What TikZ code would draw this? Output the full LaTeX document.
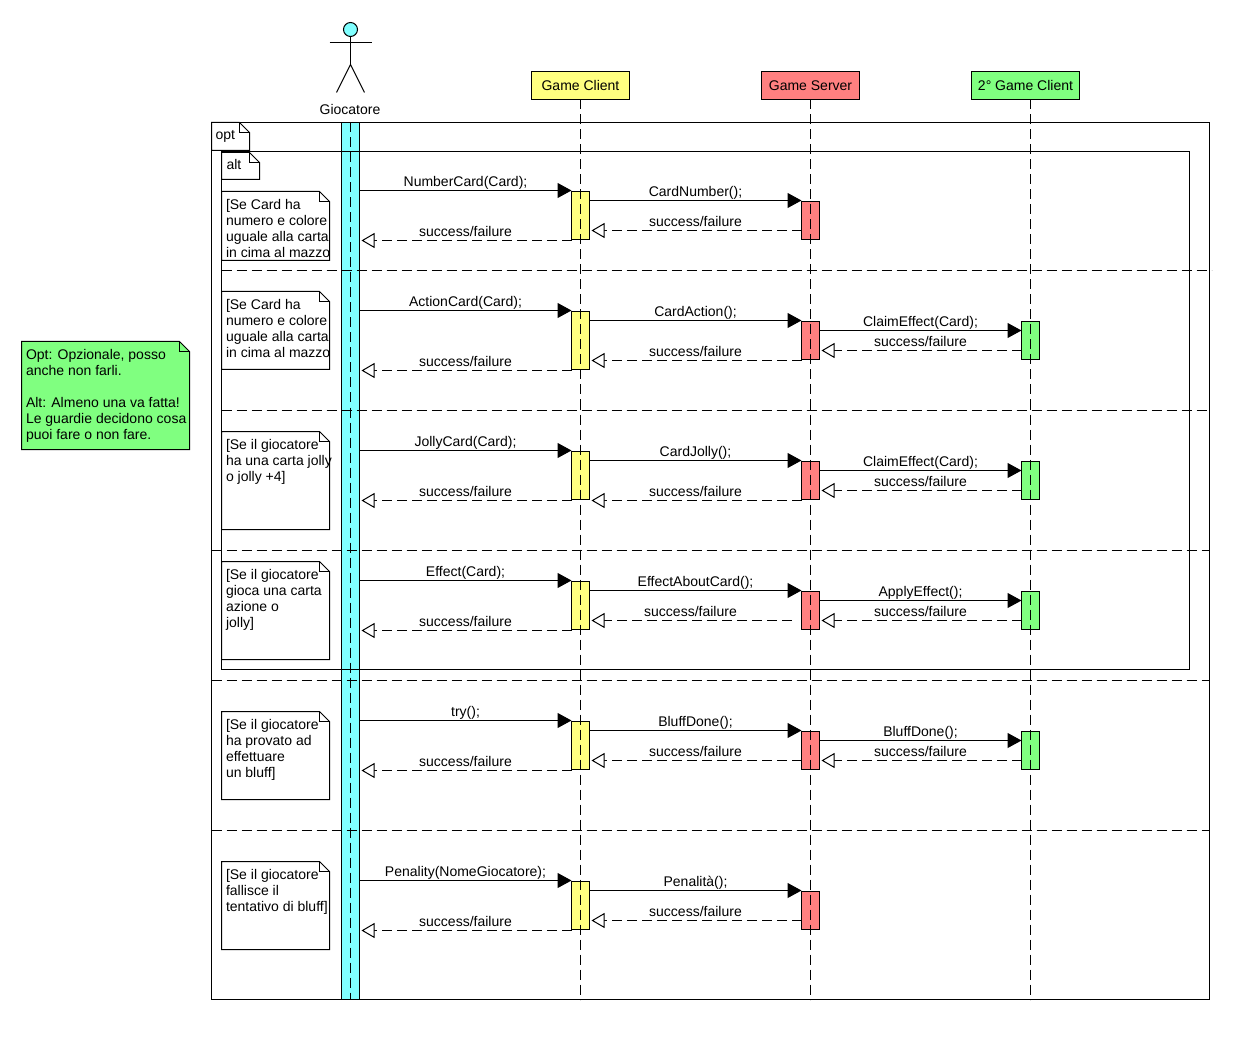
\documentclass[tikz,border=0pt]{standalone}
\usepackage{fontspec}
\setmainfont{Liberation Sans}
\usetikzlibrary{arrows.meta}
\definecolor{cy}{HTML}{80FFFF}
\definecolor{ye}{HTML}{FFFF80}
\definecolor{re}{HTML}{FF8080}
\definecolor{gr}{HTML}{80FF80}
\tikzset{
  ln/.style={line width=1pt,black},
  dsh/.style={ln,dash pattern=on 10pt off 5pt},
  box/.style={rectangle,draw=black,line width=1pt,inner sep=0pt,outer sep=0pt},
  txt/.style={font=\fontsize{14}{16}\selectfont,inner sep=0pt,outer sep=0pt},
  call/.style={ln,-{Triangle[length=14pt,width=15pt]}},
  ret/.style={dsh,shorten >=2pt,-{Triangle[open,length=13pt,width=15pt,fill=white,line width=1pt]}},
}
% foldable note: name, x1, y1, x2, y2, fill, fold
\newcommand\foldnote[7]{%
  \node[rectangle,inner sep=0pt,outer sep=0pt,anchor=north west,minimum width=#4pt-#2pt,minimum height=#5pt-#3pt] (#1) at (#2,#3) {};
  \draw[ln,fill=#6] (#1.north west) -- ([xshift=-#7pt]#1.north east) -- ([yshift=-#7pt]#1.north east) -- (#1.south east) -- (#1.south west) -- cycle;
  \draw[ln] ([xshift=-#7pt]#1.north east) -- ([xshift=-#7pt,yshift=-#7pt]#1.north east) -- ([yshift=-#7pt]#1.north east);
}
\newcommand\act[5]{\node[box,anchor=north west,minimum width=18pt,minimum height=#4pt-#3pt,fill=#5] (#1) at (#2,#3) {};}
\newcommand\callm[4]{\draw[call] (#1.east |- 0,#3) -- node[txt,anchor=base,yshift=4pt] {#4} (#2.west |- 0,#3);}
\newcommand\retm[4]{\draw[ret] (#1.west |- 0,#3) -- node[txt,anchor=base,yshift=4pt] {#4} (#2.east |- 0,#3);}
\newcommand\guard[2]{\node[txt,anchor=north west,align=left,xshift=4.5pt,yshift=-8pt] (#1t) at (#1.north west) {#2};}
\begin{document}
\begin{tikzpicture}[x=1pt,y=-1pt]
\useasboundingbox (-0.5,-0.5) rectangle (1249.5,1039.5);
\fill[white] (-0.5,-0.5) rectangle (1249.5,1039.5);
% lifeline heads
\node[box,fill=ye,minimum width=98pt,minimum height=28pt,txt] (h1) at (580,85) {Game Client};
\node[box,fill=re,minimum width=98pt,minimum height=28pt,txt] (h2) at (810,85) {Game Server};
\node[box,fill=gr,minimum width=108pt,minimum height=28pt,txt] (h3) at (1025,85) {2° Game Client};
\coordinate (e1) at (580,999);
\coordinate (e2) at (810,999);
\coordinate (e3) at (1030,999);
% actor
\node[circle,draw=black,line width=1pt,fill=cy,minimum size=14pt,inner sep=0pt,outer sep=0pt] (head) at (350,29) {};
\coordinate (hip) at (350,64);
\coordinate (armL) at (329,42);
\coordinate (armR) at (371,42);
\coordinate (legL) at (336,92);
\coordinate (legR) at (364,92);
\draw[ln] (head.south) -- (hip);
\draw[ln] (armL) -- (armR);
\draw[ln] (legL) -- (hip) -- (legR);
\node[txt] (actor) at (349.5,109) {Giocatore};
% player bar
\node[box,anchor=north west,fill=cy,minimum width=18pt,minimum height=877pt] (pbar) at (341,122) {};
% frames
\node[box,anchor=north west,minimum width=998pt,minimum height=877pt] (opt) at (211,122) {};
\node[box,anchor=north west,minimum width=968pt,minimum height=518pt] (alt) at (221,151) {};
\foldnote{optt}{211}{122}{249}{150}{white}{10}
\node[txt,anchor=base west] (optl) at (215,139) {opt};
\foldnote{altt}{221}{152}{259}{179}{white}{10}
\node[txt,anchor=base west] (altl) at (226,169) {alt};
% separators
\coordinate (s1a) at (221,270); \coordinate (s1b) at (1211,270);
\coordinate (s2a) at (221,410); \coordinate (s2b) at (1209,410);
\coordinate (s3a) at (211,550); \coordinate (s3b) at (1209,550);
\coordinate (s4a) at (211,680); \coordinate (s4b) at (1209,680);
\coordinate (s5a) at (211,830); \coordinate (s5b) at (1209,830);
\foreach \i in {1,...,5} {\draw[dsh] (s\i a) -- (s\i b);}
% guards
\foldnote{g1}{221}{191}{329}{260}{white}{10}
\guard{g1}{[Se Card ha\\numero e colore\\uguale alla carta\\in cima al mazzo}
\foldnote{g2}{221}{291}{329}{369}{white}{10}
\guard{g2}{[Se Card ha\\numero e colore\\uguale alla carta\\in cima al mazzo}
\foldnote{g3}{221}{431}{329}{529}{white}{10}
\guard{g3}{[Se il giocatore\\ha una carta jolly\\o jolly +4]}
\foldnote{g4}{221}{561}{329}{659}{white}{10}
\guard{g4}{[Se il giocatore\\gioca una carta\\azione o\\jolly]}
\foldnote{g5}{221}{711}{329}{799}{white}{10}
\guard{g5}{[Se il giocatore\\ha provato ad\\effettuare\\un bluff]}
\foldnote{g6}{221}{861}{329}{949}{white}{10}
\guard{g6}{[Se il giocatore\\fallisce il\\tentativo di bluff]}
% side note
\foldnote{side}{21}{341}{189}{449}{gr}{10}
\node[txt,anchor=north west,align=left,xshift=4.5pt,yshift=-8pt] (sidet) at (side.north west) {Opt: Opzionale, posso\\anche non farli.\\[16pt]Alt: Almeno una va fatta!\\Le guardie decidono cosa\\puoi fare o non fare.};
% activations
\act{a1}{571}{191}{239}{ye} \act{b1}{801}{201}{239}{re}
\act{a2}{571}{311}{369}{ye} \act{b2}{801}{321}{359}{re} \act{c2}{1021}{321}{359}{gr}
\act{a3}{571}{451}{499}{ye} \act{b3}{801}{461}{499}{re} \act{c3}{1021}{461}{499}{gr}
\act{a4}{571}{581}{629}{ye} \act{b4}{801}{591}{629}{re} \act{c4}{1021}{591}{629}{gr}
\act{a5}{571}{721}{769}{ye} \act{b5}{801}{731}{769}{re} \act{c5}{1021}{731}{769}{gr}
\act{a6}{571}{881}{929}{ye} \act{b6}{801}{891}{929}{re}
% lifelines
\draw[dsh] (pbar.north) -- (pbar.south);
\draw[dsh] (h1.south) -- (e1);
\draw[dsh] (h2.south) -- (e2);
\draw[dsh] (e3 |- h3.south) -- (e3);
% row 1
\callm{pbar}{a1}{190}{NumberCard(Card);}
\callm{a1}{b1}{200}{CardNumber();}
\retm{b1}{a1}{230}{success/failure}
\retm{a1}{pbar}{240}{success/failure}
% row 2
\callm{pbar}{a2}{310}{ActionCard(Card);}
\callm{a2}{b2}{320}{CardAction();}
\callm{b2}{c2}{330}{ClaimEffect(Card);}
\retm{c2}{b2}{350}{success/failure}
\retm{b2}{a2}{360}{success/failure}
\retm{a2}{pbar}{370}{success/failure}
% row 3
\callm{pbar}{a3}{450}{JollyCard(Card);}
\callm{a3}{b3}{460}{CardJolly();}
\callm{b3}{c3}{470}{ClaimEffect(Card);}
\retm{c3}{b3}{490}{success/failure}
\retm{b3}{a3}{500}{success/failure}
\retm{a3}{pbar}{500}{success/failure}
% row 4
\callm{pbar}{a4}{580}{Effect(Card);}
\callm{a4}{b4}{590}{EffectAboutCard();}
\callm{b4}{c4}{600}{ApplyEffect();}
\retm{c4}{b4}{620}{success/failure}
\draw[ret] ([xshift=-10pt]b4.west |- 0,620) -- node[txt,anchor=base,yshift=4pt] {success/failure} (a4.east |- 0,620);
\retm{a4}{pbar}{630}{success/failure}
% row 5
\callm{pbar}{a5}{720}{try();}
\callm{a5}{b5}{730}{BluffDone();}
\callm{b5}{c5}{740}{BluffDone();}
\retm{c5}{b5}{760}{success/failure}
\retm{b5}{a5}{760}{success/failure}
\retm{a5}{pbar}{770}{success/failure}
% row 6
\callm{pbar}{a6}{880}{Penality(NomeGiocatore);}
\callm{a6}{b6}{890}{Penalità();}
\retm{b6}{a6}{920}{success/failure}
\retm{a6}{pbar}{930}{success/failure}
\end{tikzpicture}
\end{document}
